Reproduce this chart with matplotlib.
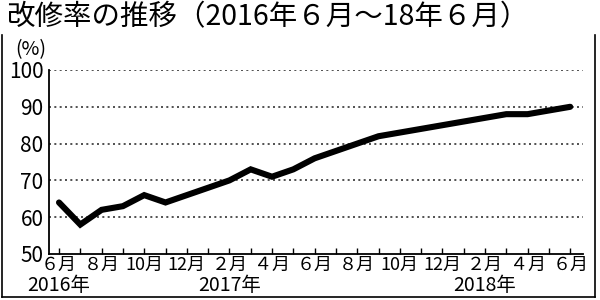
import matplotlib
matplotlib.use("Agg")
import matplotlib.pyplot as plt
from matplotlib.lines import Line2D

plt.rcParams['font.family'] = ['Noto Sans CJK JP', 'DejaVu Sans']

title = "改修率の推移（2016年６月～18年６月）"
values = [64, 58, 62, 63, 66, 64, 66, 68, 70, 73, 71, 73, 76, 78, 80, 82, 83, 84, 85, 86, 87, 88, 88, 89, 90]
tick_labels = ["６月", "８月", "10月", "12月", "２月", "４月", "６月", "８月", "10月", "12月", "２月", "４月", "６月"]
year_labels = [(0, "2016年"), (8, "2017年"), (20, "2018年")]
yticks = [50, 60, 70, 80, 90, 100]

fig = plt.figure(figsize=(6, 3), dpi=100)
ax = fig.add_axes([49/600, 1-254/300, 534/600, 184/300])

x = list(range(len(values)))
ax.plot(x, values, color='black', lw=4.4, solid_joinstyle='miter', solid_capstyle='round', zorder=3)

ax.set_xlim(-0.47, 24.6)
ax.set_ylim(50, 100)
ax.set_yticks(yticks)
ax.set_yticklabels([str(v) for v in yticks], fontsize=15)
ax.tick_params(axis='y', length=0, pad=4)
ax.set_xticks(x, minor=False)
ax.set_xticklabels([tick_labels[i // 2] if i % 2 == 0 else "" for i in x], fontsize=13)
ax.tick_params(axis='x', direction='in', length=4, width=1, pad=1.5)

for v in yticks[1:]:
    ax.axhline(v, color='#333333', lw=1.2, dashes=(1.2, 2.0), zorder=1)

for s in ['top', 'right']:
    ax.spines[s].set_visible(False)
for s in ['left', 'bottom']:
    ax.spines[s].set_linewidth(1.3)

for xi, lab in year_labels:
    ax.text(xi, -0.17, lab, transform=ax.get_xaxis_transform(), ha='center', va='center', fontsize=14)

fig.text(31/600, 1-50/300, "(%)", ha='center', va='center', fontsize=14)
fig.text(6/600, 1-2/300, title, ha='left', va='top', fontsize=20.5)

# frame
for xs, ys in [([1.5, 1.5], [35, 297]), ([595, 595], [35, 297]), ([1.5, 595], [297, 297])]:
    fig.add_artist(Line2D([a/600 for a in xs], [1-b/300 for b in ys], color='black', lw=1.2, transform=fig.transFigure))

fig.savefig("out.png", dpi=100)
